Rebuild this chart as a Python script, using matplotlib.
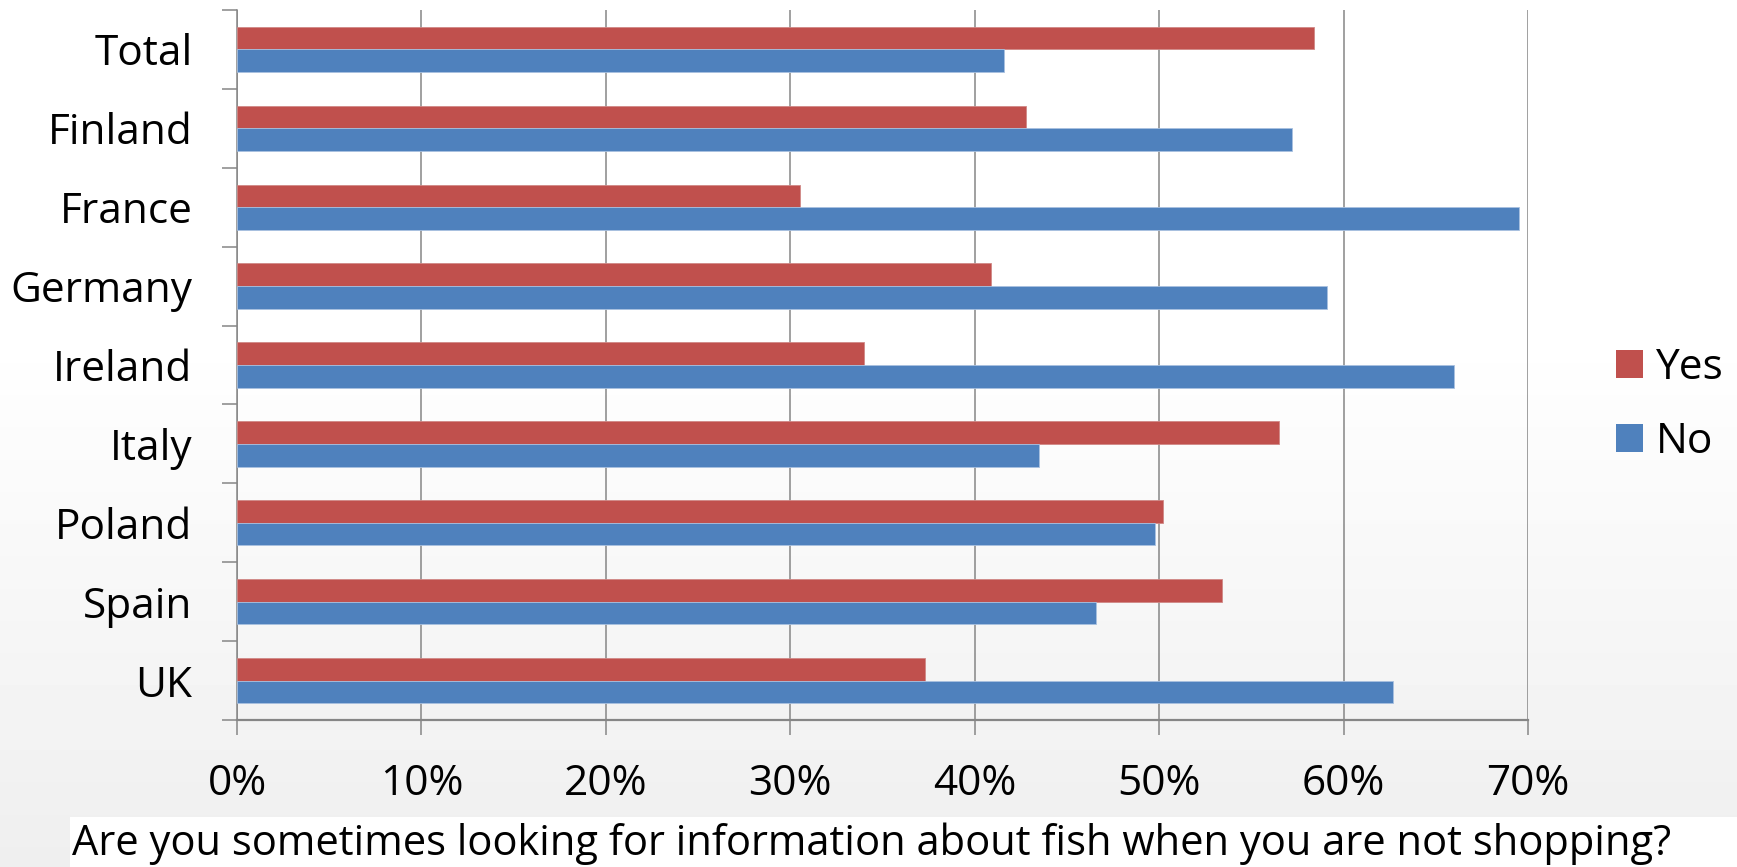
import numpy as np
import matplotlib
matplotlib.use("Agg")
import matplotlib.pyplot as plt
from matplotlib.patches import Patch, Rectangle
from matplotlib.ticker import FixedLocator, PercentFormatter

# data (share of respondents, %)
countries = ["Total", "Finland", "France", "Germany", "Ireland", "Italy", "Poland", "Spain", "UK"]
yes = [58.4, 42.8, 30.5, 40.9, 34.0, 56.5, 50.2, 53.4, 37.3]
no = [41.6, 57.2, 69.5, 59.1, 66.0, 43.5, 49.8, 46.6, 62.7]
x_ticks = [0, 10, 20, 30, 40, 50, 60, 70]
caption = "Are you sometimes looking for information about fish when you are not shopping?"

RED = "#C0504D"
BLUE = "#4F81BD"
GRID = "#868686"
FS = 30.5

plt.rcParams["font.family"] = ["Open Sans", "DejaVu Sans"]

W, H = 1737, 867
fig = plt.figure(figsize=(W / 100, H / 100), dpi=100)

# slide background: white fading to light grey at the bottom
bg = fig.add_axes([0, 0, 1, 1], zorder=-10)
grad = np.ones((H, 1))
ys = np.arange(H)
t = np.clip((ys - 330) / (H - 330), 0, 1)
grad[:, 0] = 1.0 - 0.065 * t
bg.imshow(grad, cmap="gray", vmin=0, vmax=1, aspect="auto", extent=[0, 1, 0, 1])
bg.axis("off")

# white strip under the caption
fig.patches.append(Rectangle((70 / W, 0), 1 - 70 / W, 50 / H, transform=fig.transFigure,
                             facecolor="white", edgecolor="none", zorder=-5))

ax = fig.add_axes([237 / W, 1 - 720 / H, (1528 - 237) / W, (720 - 10) / H])
ax.patch.set_alpha(0)

pos = np.arange(len(countries))
h = 0.2875
ax.barh(pos - h / 2, yes, height=h, color=RED, edgecolor="#D08886", linewidth=0.6, label="Yes", zorder=3)
ax.barh(pos + h / 2, no, height=h, color=BLUE, edgecolor="#A9C1E0", linewidth=0.6, label="No", zorder=3)

ax.set_xlim(0, 70)
ax.set_ylim(len(countries) - 0.5, -0.5)

ax.xaxis.set_major_locator(FixedLocator(x_ticks))
ax.xaxis.set_major_formatter(PercentFormatter(decimals=0))
ax.grid(axis="x", color=GRID, linewidth=1.1, zorder=0)

ax.yaxis.set_major_locator(FixedLocator(np.arange(len(countries) + 1) - 0.5))
ax.yaxis.set_major_formatter(plt.NullFormatter())
ax.yaxis.set_minor_locator(FixedLocator(pos))
ax.set_yticks(pos, countries, minor=True)

ax.tick_params(axis="x", length=11, width=1.1, color=GRID, pad=20, labelsize=FS)
ax.tick_params(axis="y", which="major", length=11, width=1.1, color=GRID)
ax.tick_params(axis="y", which="minor", length=0, pad=32, labelsize=FS)

for s in ["top", "right"]:
    ax.spines[s].set_visible(False)
ax.spines["left"].set_color(GRID)
ax.spines["left"].set_linewidth(1.1)
ax.spines["bottom"].set_color(GRID)
ax.spines["bottom"].set_linewidth(1.6)

handles = [Patch(facecolor=RED), Patch(facecolor=BLUE)]
ax.legend(handles, ["Yes", "No"], loc="center left", bbox_to_anchor=(1616 / W, 1 - 405 / H),
          bbox_transform=fig.transFigure, frameon=False, fontsize=FS, borderpad=0, borderaxespad=0,
          handlelength=0.64, handleheight=0.64, handletextpad=0.3, labelspacing=0.75)

fig.text(72 / W, 1 - 855 / H, caption, fontsize=30, va="baseline", ha="left")

fig.savefig("out.png", dpi=100)
